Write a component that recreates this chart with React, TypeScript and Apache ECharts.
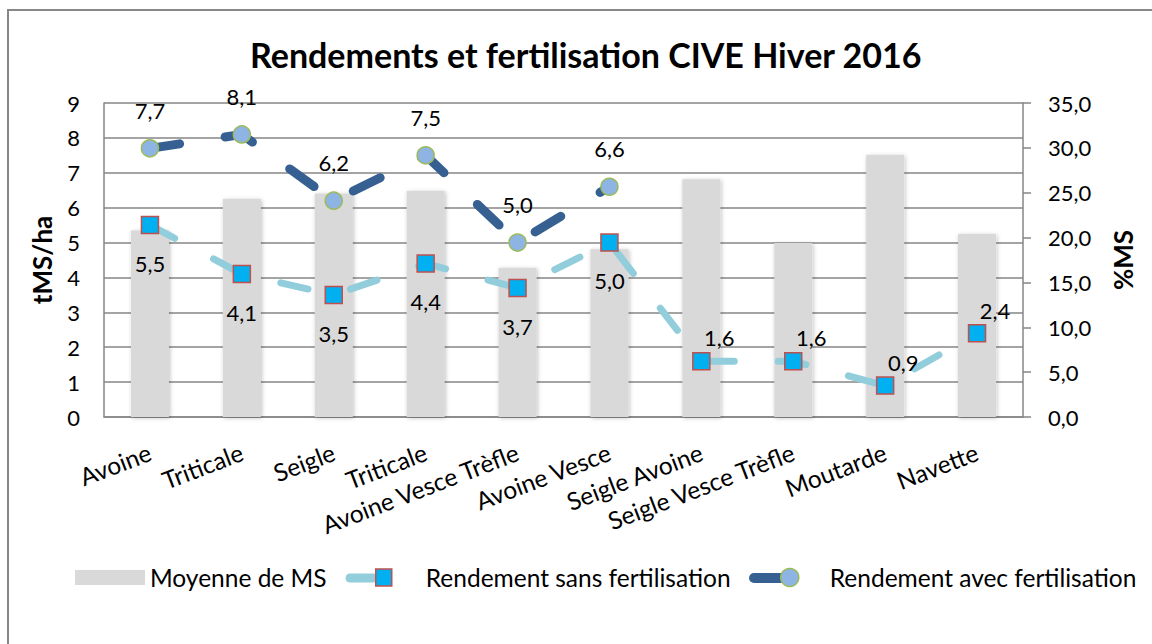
import React, { useEffect, useRef } from "react";
import * as echarts from "echarts";

const categories = [
  "Avoine",
  "Triticale",
  "Seigle",
  "Triticale",
  "Avoine Vesce Trèfle",
  "Avoine Vesce",
  "Seigle Avoine",
  "Seigle Vesce Trèfle",
  "Moutarde",
  "Navette",
];
const moyenneMS = [20.8, 24.3, 24.9, 25.2, 16.6, 18.7, 26.5, 19.4, 29.2, 20.4];
const sansFertilisation = [5.5, 4.1, 3.5, 4.4, 3.7, 5.0, 1.6, 1.6, 0.9, 2.4];
const avecFertilisation = [7.7, 8.1, 6.2, 7.5, 5.0, 6.6, null, null, null, null];
const labelsAboveRight = [false, false, false, false, false, false, true, true, true, true];

const FONT = "Lato";
const fmt1 = (v: number) => v.toFixed(1).replace(".", ",");

export default function App() {
  const ref = useRef<HTMLDivElement>(null);
  useEffect(() => {
    if (!ref.current) return;
    const chart = echarts.init(ref.current, undefined, { renderer: "svg" });
    const option: any = {
      animation: false,
      backgroundColor: "#ffffff",
      textStyle: { fontFamily: FONT, color: "#000" },
      title: {
        text: "Rendements et fertilisation CIVE Hiver 2016",
        left: 250,
        top: 37,
        padding: 0,
        textStyle: { fontFamily: FONT, fontWeight: "bold", fontSize: 34, color: "#000" },
      },
      graphic: [
        {
          type: "rect",
          shape: { x: 8, y: 10, width: 1170, height: 660 },
          style: { fill: "none", stroke: "#878787", lineWidth: 2 },
          silent: true,
          z: -10,
        },
        {
          type: "line",
          shape: { x1: 350, y1: 578, x2: 373, y2: 578 },
          style: { stroke: "#92CDDC", lineWidth: 9, lineCap: "round" },
          silent: true,
        },
        {
          type: "line",
          shape: { x1: 754, y1: 578, x2: 781, y2: 578 },
          style: { stroke: "#376092", lineWidth: 10, lineCap: "round" },
          silent: true,
        },
      ],
      legend: [
        {
          left: 75,
          top: 565,
          padding: 0,
          itemWidth: 70,
          itemHeight: 15,
          data: [{ name: "Moyenne de MS", icon: "rect" }],
          textStyle: { fontFamily: FONT, fontSize: 24.5, color: "#000" },
        },
        {
          left: 375,
          top: 565,
          padding: 0,
          itemWidth: 16,
          itemHeight: 17,
          data: [
            {
              name: "Rendement sans fertilisation",
              icon: "rect",
              itemStyle: { color: "#00B0F0", borderColor: "#C0504D", borderWidth: 1.5 },
            },
          ],
          textStyle: { fontFamily: FONT, fontSize: 24.5, color: "#000", padding: [0, 0, 0, 29] },
        },
        {
          left: 780,
          top: 565,
          padding: 0,
          itemWidth: 18,
          itemHeight: 18,
          data: [
            {
              name: "Rendement avec fertilisation",
              icon: "circle",
              itemStyle: { color: "#8EB4E3", borderColor: "#9BBB59", borderWidth: 1.5 },
            },
          ],
          textStyle: { fontFamily: FONT, fontSize: 24.5, color: "#000", padding: [0, 0, 0, 26] },
        },
      ],
      grid: { left: 104, right: 129, top: 103, bottom: 227, containLabel: false },
      xAxis: {
        type: "category",
        data: categories,
        axisLine: { show: true, lineStyle: { color: "#868686", width: 1.5 } },
        axisTick: { show: false },
        axisLabel: {
          interval: 0,
          rotate: 21,
          margin: 34,
          fontFamily: FONT,
          fontSize: 24.5,
          color: "#000",
        },
      },
      yAxis: [
        {
          type: "value",
          min: 0,
          max: 9,
          interval: 1,
          name: "tMS/ha",
          nameLocation: "middle",
          nameRotate: 90,
          nameGap: 49,
          nameTextStyle: { fontFamily: FONT, fontWeight: "bold", fontSize: 26, color: "#000" },
          axisLine: { show: true, lineStyle: { color: "#868686", width: 1.5 } },
          axisTick: { show: false },
          axisLabel: { margin: 24, fontFamily: FONT, fontSize: 22, color: "#000" },
          splitLine: { show: true, lineStyle: { color: "#868686", width: 1.5 } },
        },
        {
          type: "value",
          min: 0,
          max: 35,
          interval: 5,
          position: "right",
          name: "%MS",
          nameLocation: "middle",
          nameRotate: 90,
          nameGap: 87,
          nameTextStyle: { fontFamily: FONT, fontWeight: "bold", fontSize: 26, color: "#000" },
          axisLine: { show: true, lineStyle: { color: "#868686", width: 1.5 } },
          axisTick: { show: true, inside: false, length: 8, lineStyle: { color: "#868686", width: 1.5 } },
          axisLabel: {
            margin: 25,
            fontFamily: FONT,
            fontSize: 22,
            color: "#000",
            formatter: (v: number) => fmt1(v),
          },
          splitLine: { show: false },
        },
      ],
      series: [
        {
          name: "Moyenne de MS",
          type: "bar",
          yAxisIndex: 1,
          barWidth: 38,
          data: moyenneMS,
          itemStyle: {
            color: "#D9D9D9",
            shadowBlur: 4,
            shadowColor: "rgba(0,0,0,0.25)",
            shadowOffsetX: 1,
            shadowOffsetY: 1,
          },
          z: 1,
        },
        {
          name: "Rendement sans fertilisation",
          type: "line",
          yAxisIndex: 0,
          data: sansFertilisation.map((v, i) => ({
            value: v,
            label: labelsAboveRight[i]
              ? { position: "top", distance: 3, offset: [18, 0] }
              : { position: "bottom", distance: 18 },
          })),
          symbol: "rect",
          symbolSize: 17,
          itemStyle: { color: "#00B0F0", borderColor: "#C0504D", borderWidth: 1.5 },
          lineStyle: { color: "#92CDDC", width: 7, type: [28, 44], cap: "round" },
          label: {
            show: true,
            fontFamily: FONT,
            fontSize: 22,
            color: "#000",
            formatter: (p: any) => fmt1(p.value),
          },
          z: 3,
        },
        {
          name: "Rendement avec fertilisation",
          type: "line",
          yAxisIndex: 0,
          data: avecFertilisation.map((v) => (v === null ? "-" : v)),
          symbol: "circle",
          symbolSize: 17,
          itemStyle: { color: "#8EB4E3", borderColor: "#9BBB59", borderWidth: 1.5 },
          lineStyle: { color: "#376092", width: 9, type: [30, 46], cap: "round" },
          label: {
            show: true,
            position: "top",
            distance: 18,
            fontFamily: FONT,
            fontSize: 22,
            color: "#000",
            formatter: (p: any) => fmt1(Number(p.value)),
          },
          z: 4,
        },
      ],
    };
    chart.setOption(option);
    return () => chart.dispose();
  }, []);
  return (
    <div
      ref={ref}
      style={{ position: "absolute", left: 0, top: 0, width: 1152, height: 644, background: "#fff" }}
    />
  );
}
